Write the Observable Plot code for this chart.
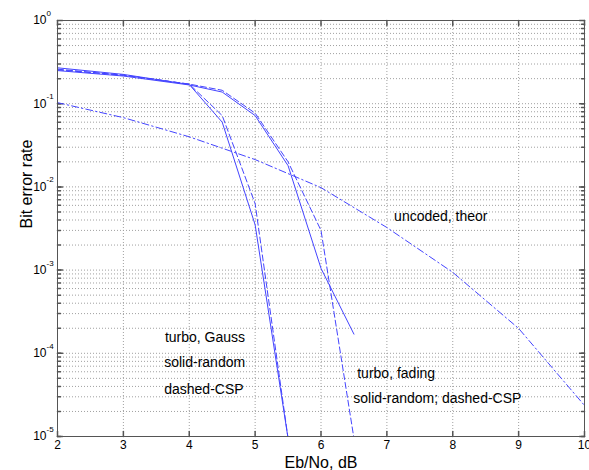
<!DOCTYPE html>
<html>
<head>
<meta charset="utf-8">
<script src="https://cdn.jsdelivr.net/npm/d3@7"></script>
<script src="https://cdn.jsdelivr.net/npm/@observablehq/plot@0.6"></script>
<style>
  html, body { margin: 0; padding: 0; background: #fff; }
  #chart svg { display: block; }
</style>
</head>
<body>
<div id="chart"></div>
<script>
// ---- data ----
const ebnoGauss = [2, 3, 4, 4.5, 5, 5.5];
const berGaussRandom = [0.27, 0.225, 0.17, 0.060, 0.0035, 0.0000095];
const berGaussCSP    = [0.26, 0.22, 0.172, 0.072, 0.0063, 0.0000095];

const ebnoFading = [2, 3, 4, 4.5, 5, 5.5, 6, 6.5];
const berFadingRandom = [0.25, 0.215, 0.168, 0.138, 0.072, 0.018, 0.00105, 0.00017];
const berFadingCSP    = [0.255, 0.22, 0.172, 0.145, 0.077, 0.020, 0.0030, 0.0000095];

const ebnoUncoded = [2, 3, 4, 5, 6, 7, 8, 9, 10];
const berUncoded  = [0.103, 0.068, 0.040, 0.0213, 0.0098, 0.00325, 0.00094, 0.000199, 0.0000236];

const xTicks = [2, 3, 4, 5, 6, 7, 8, 9, 10];
const yMajor = [1e0, 1e-1, 1e-2, 1e-3, 1e-4, 1e-5];
const yExponents = ["0", "-1", "-2", "-3", "-4", "-5"];
const yMinor = [];
for (const m of yMajor.slice(1)) for (let k = 1; k <= 9; k++) yMinor.push(m * k);

const toRows = (xs, ys) => xs.map((x, i) => ({x, y: ys[i]}));

const blue = "#4444ff";
const gridStyle = {stroke: "#a0a0a0", strokeDasharray: "1,2", strokeWidth: 1};
const tickShape = {draw(ctx, l) { ctx.moveTo(0, 0); ctx.lineTo(0, -l); }};
const font = "'Liberation Sans', Arial, Helvetica, sans-serif";

const chart = Plot.plot({
  width: 589,
  height: 470,
  marginLeft: 57,
  marginRight: 5,
  marginTop: 20,
  marginBottom: 34,
  style: {fontFamily: font, background: "#fff", color: "#000", overflow: "visible"},
  x: {domain: [2, 10], axis: null},
  y: {type: "log", domain: [1e-5, 1], axis: null},
  marks: [
    // grid
    Plot.ruleY(yMinor.filter(v => v > 1.0001e-5 && v < 0.9999), {y: d => d, ...gridStyle}),
    Plot.ruleX(xTicks.slice(1, -1), {x: d => d, ...gridStyle}),
    // tick marks (inside)
    Plot.vector(xTicks, {x: d => d, frameAnchor: "bottom", length: 5, rotate: 0, anchor: "start", shape: tickShape, stroke: "#555"}),
    Plot.vector(xTicks, {x: d => d, frameAnchor: "top", length: 5, rotate: 180, anchor: "start", shape: tickShape, stroke: "#555"}),
    Plot.vector(yMajor, {y: d => d, frameAnchor: "left", length: 5, rotate: 90, anchor: "start", shape: tickShape, stroke: "#555"}),
    Plot.vector(yMajor, {y: d => d, frameAnchor: "right", length: 5, rotate: -90, anchor: "start", shape: tickShape, stroke: "#555"}),
    Plot.vector(yMinor, {y: d => d, frameAnchor: "left", length: 3, rotate: 90, anchor: "start", shape: tickShape, stroke: "#555"}),
    Plot.vector(yMinor, {y: d => d, frameAnchor: "right", length: 3, rotate: -90, anchor: "start", shape: tickShape, stroke: "#555"}),
    // curves
    Plot.line(toRows(ebnoUncoded, berUncoded), {x: "x", y: "y", stroke: blue, strokeWidth: 1, strokeDasharray: "7,3,1.5,3", clip: true}),
    Plot.line(toRows(ebnoGauss, berGaussRandom), {x: "x", y: "y", stroke: blue, strokeWidth: 1, clip: true}),
    Plot.line(toRows(ebnoGauss, berGaussCSP), {x: "x", y: "y", stroke: blue, strokeWidth: 1, strokeDasharray: "6,3", clip: true}),
    Plot.line(toRows(ebnoFading, berFadingRandom), {x: "x", y: "y", stroke: blue, strokeWidth: 1, clip: true}),
    Plot.line(toRows(ebnoFading, berFadingCSP), {x: "x", y: "y", stroke: blue, strokeWidth: 1, strokeDasharray: "6,3", clip: true}),
    // frame
    Plot.frame({stroke: "#555", strokeWidth: 1}),
    // tick labels
    Plot.text(xTicks, {x: d => d, frameAnchor: "bottom", dy: 12, text: d => String(d), fontSize: 12, fill: "#000"}),
    Plot.text(yMajor, {y: d => d, frameAnchor: "left", dx: -11, textAnchor: "end", text: () => "10", fontSize: 12, fill: "#000"}),
    Plot.text(yMajor, {y: d => d, frameAnchor: "left", dx: -11, dy: -7, textAnchor: "start", text: (d, i) => yExponents[i], fontSize: 8, fill: "#000"}),
    // axis titles
    Plot.text(["Eb/No, dB"], {frameAnchor: "bottom", dy: 31, text: d => d, fontSize: 16, fill: "#000"}),
    Plot.text(["Bit error rate"], {frameAnchor: "left", dx: -31, rotate: -90, text: d => d, fontSize: 16, fill: "#000"}),
    // annotations
    Plot.text(["turbo, Gauss"], {x: 3.63, y: 1.55e-4, text: d => d, textAnchor: "start", fontSize: 14, fill: "#000"}),
    Plot.text(["solid-random"], {x: 3.62, y: 7.76e-5, text: d => d, textAnchor: "start", fontSize: 14, fill: "#000"}),
    Plot.text(["dashed-CSP"], {x: 3.62, y: 3.67e-5, text: d => d, textAnchor: "start", fontSize: 14, fill: "#000"}),
    Plot.text(["uncoded, theor"], {x: 7.11, y: 4.4e-3, text: d => d, textAnchor: "start", fontSize: 14, fill: "#000"}),
    Plot.text(["turbo, fading"], {x: 6.55, y: 5.7e-5, text: d => d, textAnchor: "start", fontSize: 14, fill: "#000"}),
    Plot.text(["solid-random; dashed-CSP"], {x: 6.49, y: 2.86e-5, text: d => d, textAnchor: "start", fontSize: 14, fill: "#000"})
  ]
});
document.getElementById("chart").appendChild(chart);
</script>
</body>
</html>
